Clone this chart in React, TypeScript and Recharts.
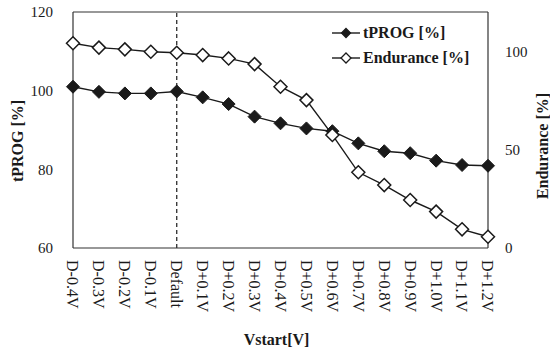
import React from "react";
import {
  LineChart,
  Line,
  XAxis,
  YAxis,
  ReferenceLine,
} from "recharts";

const vstartLabels = [
  "D-0.4V", "D-0.3V", "D-0.2V", "D-0.1V", "Default",
  "D+0.1V", "D+0.2V", "D+0.3V", "D+0.4V", "D+0.5V", "D+0.6V",
  "D+0.7V", "D+0.8V", "D+0.9V", "D+1.0V", "D+1.1V", "D+1.2V",
];
const tprogValues = [
  101, 99.7, 99.3, 99.3, 99.8, 98.3, 96.6, 93.4, 91.7, 90.4, 89.7,
  86.6, 84.6, 84.1, 82.2, 81.1, 80.9,
];
const enduranceValues = [
  104.1, 101.9, 101.0, 99.8, 99.3, 98.1, 96.4, 93.5, 82.0, 75.2, 57.5,
  38.5, 32.0, 24.4, 18.5, 9.5, 5.7,
];
const leftTicks = [60, 80, 100, 120];
const rightTicks = [0, 50, 100];

const data = vstartLabels.map((v, i) => ({
  vstart: v,
  tprog: tprogValues[i],
  endurance: enduranceValues[i],
}));

const FONT = "'Liberation Serif', 'DejaVu Serif', serif";
const INK = "#1a1a1a";

const diamond = (cx: number, cy: number, r: number) =>
  `${cx},${cy - r} ${cx + r},${cy} ${cx},${cy + r} ${cx - r},${cy}`;

const FilledDot = (props: any) => {
  const { cx, cy } = props;
  if (cx == null || cy == null) return null;
  return <polygon points={diamond(cx, cy, 6.5)} fill={INK} stroke={INK} strokeWidth={1} />;
};

const OpenDot = (props: any) => {
  const { cx, cy } = props;
  if (cx == null || cy == null) return null;
  return <polygon points={diamond(cx, cy, 6.5)} fill="#fff" stroke={INK} strokeWidth={1.5} />;
};

const XTick = (props: any) => {
  const { x, y, payload } = props;
  return (
    <text
      transform={`translate(${x},${y + 10}) rotate(90)`}
      textAnchor="start"
      dy="0.35em"
      fontSize={16}
      fontFamily={FONT}
      fill={INK}
    >
      {payload.value}
    </text>
  );
};

const legendItems = [
  { name: "tPROG [%]", filled: true },
  { name: "Endurance [%]", filled: false },
];

const LegendBox = () => (
  <div
    style={{
      position: "absolute",
      left: 332,
      top: 20,
      fontFamily: FONT,
      fontWeight: "bold",
      fontSize: 16,
      color: INK,
      lineHeight: 1,
    }}
  >
    {legendItems.map((item) => (
      <div key={item.name} style={{ display: "flex", alignItems: "center", height: 25 }}>
        <svg width={30} height={14} style={{ marginRight: 1 }}>
          <line x1={0} y1={7} x2={28} y2={7} stroke={INK} strokeWidth={1.4} />
          <polygon
            points={diamond(14, 7, item.filled ? 4.5 : 5)}
            fill={item.filled ? INK : "#fff"}
            stroke={INK}
            strokeWidth={1.3}
          />
        </svg>
        <span style={{ whiteSpace: "nowrap" }}>{item.name}</span>
      </div>
    ))}
  </div>
);

export default function App() {
  return (
    <div style={{ position: "absolute", left: 0, top: 0, width: 550, height: 350, background: "#fff" }}>
      <LineChart width={550} height={350} data={data} margin={{ top: 12, right: 2, bottom: 0, left: 13 }}>
        <XAxis
          dataKey="vstart"
          interval={0}
          height={102}
          tickLine={false}
          tickSize={0}
          tick={<XTick />}
          axisLine={{ stroke: "#333", strokeWidth: 1.2 }}
          label={{
            content: (p: any) => {
              const vb = p.viewBox;
              return (
                <text
                  x={vb.x + vb.width / 2 - 4}
                  y={345}
                  textAnchor="middle"
                  fontSize={16}
                  fontWeight="bold"
                  fontFamily={FONT}
                  fill={INK}
                >
                  Vstart[V]
                </text>
              );
            },
          }}
        />
        <YAxis
          yAxisId="left"
          width={60}
          domain={[60, 120]}
          ticks={leftTicks}
          tickLine={false}
          tickSize={0}
          tickMargin={20}
          axisLine={{ stroke: "#333", strokeWidth: 1.2 }}
          tick={{ fontSize: 15, fontFamily: FONT, fill: INK }}
          label={{
            content: (p: any) => {
              const vb = p.viewBox;
              const cy = vb.y + vb.height / 2 + 11;
              return (
                <text
                  transform={`translate(17,${cy}) rotate(-90)`}
                  textAnchor="middle"
                  dy="0.35em"
                  fontSize={16}
                  fontWeight="bold"
                  fontFamily={FONT}
                  fill={INK}
                >
                  tPROG [%]
                </text>
              );
            },
          }}
        />
        <YAxis
          yAxisId="right"
          orientation="right"
          width={60}
          domain={[0, 120]}
          ticks={rightTicks}
          tickLine={false}
          tickSize={0}
          tickMargin={17}
          axisLine={{ stroke: "#333", strokeWidth: 1.2 }}
          tick={{ fontSize: 15, fontFamily: FONT, fill: INK }}
          label={{
            content: (p: any) => {
              const vb = p.viewBox;
              const cy = vb.y + vb.height / 2 + 16;
              return (
                <text
                  transform={`translate(542,${cy}) rotate(-90)`}
                  textAnchor="middle"
                  dy="0.35em"
                  fontSize={16}
                  fontWeight="bold"
                  fontFamily={FONT}
                  fill={INK}
                >
                  Endurance [%]
                </text>
              );
            },
          }}
        />
        <ReferenceLine yAxisId="left" y={120} stroke="#333" strokeWidth={1.2} />
        <ReferenceLine yAxisId="left" x="Default" stroke={INK} strokeWidth={1.2} strokeDasharray="4 3" />
        <Line
          yAxisId="left"
          dataKey="tprog"
          name="tPROG [%]"
          stroke={INK}
          strokeWidth={1.4}
          dot={<FilledDot />}
          activeDot={false}
          isAnimationActive={false}
        />
        <Line
          yAxisId="right"
          dataKey="endurance"
          name="Endurance [%]"
          stroke={INK}
          strokeWidth={1.4}
          dot={<OpenDot />}
          activeDot={false}
          isAnimationActive={false}
        />
      </LineChart>
      <LegendBox />
    </div>
  );
}
